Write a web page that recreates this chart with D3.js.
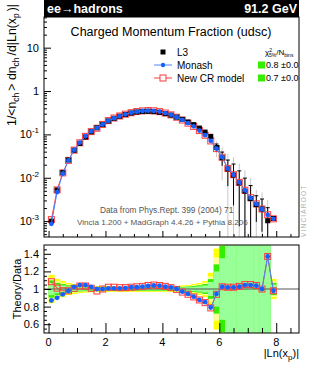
<!DOCTYPE html>
<html>
<head>
<meta charset="utf-8">
<script src="https://cdn.jsdelivr.net/npm/d3@7"></script>
<style>
body { margin: 0; background: #fff; }
text { font-family: "Liberation Sans", Arial, Helvetica, sans-serif; }
.axis path { display: none; }
.axis line { stroke: #000; }
</style>
</head>
<body>
<script>
// |ln(xp)| bin centres (bins are 0.2 wide)
const xCenters = [0.1, 0.3, 0.5, 0.7, 0.9, 1.1, 1.3, 1.5, 1.7, 1.9,
                  2.1, 2.3, 2.5, 2.7, 2.9, 3.1, 3.3, 3.5, 3.7, 3.9,
                  4.1, 4.3, 4.5, 4.7, 4.9, 5.1, 5.3, 5.5, 5.7, 5.9,
                  6.1, 6.3, 6.5, 6.7, 6.9, 7.1, 7.3, 7.5, 7.7, 7.9];
const binWidth = 0.2;

// L3 data, 1/<n_ch> dn_ch/d|ln(xp)|
const l3Values = [0.00100, 0.0052, 0.0132, 0.0257, 0.043, 0.062, 0.087, 0.115, 0.142, 0.170,
                  0.204, 0.234, 0.262, 0.288, 0.310, 0.328, 0.338, 0.340, 0.335, 0.322,
                  0.302, 0.278, 0.250, 0.222, 0.193, 0.168, 0.140, 0.113, 0.090, 0.050,
                  0.029, 0.0160, 0.0115, 0.0076, 0.0049, 0.0033, 0.0024, 0.0019, 0.00102, 0.00115];
// relative 1 sigma uncertainty of the data
const l3RelErr = [0.07, 0.05, 0.04, 0.03, 0.025, 0.02, 0.018, 0.016, 0.015, 0.015,
                  0.015, 0.015, 0.015, 0.015, 0.015, 0.015, 0.015, 0.015, 0.015, 0.015,
                  0.015, 0.015, 0.015, 0.018, 0.02, 0.025, 0.03, 0.04, 0.08, 0.2,
                  0.35, 0.6, 0.8, 0.9, 1.0, 1.0, 0.6, 0.7, 1.0, 0.05];

// Theory / Data
const monashRatio = [0.87, 0.90, 0.94, 0.98, 1.025, 1.045, 1.045, 1.025, 1.0, 1.0,
                     1.008, 1.008, 1.008, 1.01, 1.02, 1.02, 1.026, 1.034, 1.04, 1.038,
                     1.026, 1.019, 1.0, 0.97, 0.944, 0.913, 0.876, 0.85, 0.79, 0.944,
                     1.026, 1.019, 1.019, 1.026, 1.045, 1.045, 1.038, 1.0, 1.37, 0.98];
const newCRRatio = [1.083, 1.01, 0.98, 0.98, 1.008, 1.034, 1.034, 1.008, 0.977, 1.0,
                    1.02, 1.02, 1.015, 1.015, 1.02, 1.025, 1.03, 1.04, 1.045, 1.04,
                    1.03, 1.015, 0.995, 0.965, 0.94, 0.91, 0.875, 0.845, 0.785, 0.94,
                    1.025, 1.02, 1.02, 1.03, 1.05, 1.05, 1.04, 1.0, 1.37, 0.98];

const legendNames = ["L3", "Monash", "New CR model"];
const chi2Values = ["0.8 \u00b10.0", "0.7 \u00b10.0"];

const mainTicks = [0.001, 0.01, 0.1, 1, 10];
const mainTickExp = ["-3", "-2", "-1", "", ""];
const ratioTicks = [0.6, 0.8, 1, 1.2, 1.4];
const xTicks = [0, 2, 4, 6, 8];

function main() {
    var width = 315, height = 368;
    var left = 44, right = 299;
    var mainTop = 17, mainBottom = 237, ratTop = 245, ratBottom = 333;
    var blue = "#1560ff", red = "#ff3b3b";

    var svg = d3.select("body").append("svg")
                .attr("width", width)
                .attr("height", height);

    var x = d3.scaleLinear().domain([-0.16, 8.8]).range([left, right]);
    var y = d3.scaleLog().domain([4.3e-4, 51]).range([mainBottom, mainTop]);
    var yr = d3.scaleLinear().domain([0.5, 1.5]).range([ratBottom, ratTop]);

    var rows = xCenters.map(function(c, i) {
        return {x: c, v: l3Values[i], e: l3RelErr[i],
                rm: monashRatio[i], rn: newCRRatio[i],
                mon: l3Values[i] * monashRatio[i], ncr: l3Values[i] * newCRRatio[i]};
    });

    var defs = svg.append("defs");
    defs.append("clipPath").attr("id", "clipMain").append("rect")
        .attr("x", left).attr("y", mainTop).attr("width", right - left).attr("height", mainBottom - mainTop);
    defs.append("clipPath").attr("id", "clipRatio").append("rect")
        .attr("x", left).attr("y", ratTop).attr("width", right - left).attr("height", ratBottom - ratTop);

    // ---------- main panel ----------
    var gm = svg.append("g").attr("clip-path", "url(#clipMain)");

    function lo(v, k) { return v * (1 - k) > 0 ? y(v * (1 - k)) : mainBottom + 5; }

    // outer (grey) and inner (black) data error bars
    gm.selectAll(".ebg").data(rows).enter().append("line")
      .attr("x1", d => x(d.x)).attr("x2", d => x(d.x))
      .attr("y1", d => y(d.v * (1 + 2 * d.e))).attr("y2", d => lo(d.v, 2 * d.e))
      .attr("stroke", "#c8c8c8").attr("stroke-width", 1);
    gm.selectAll(".eb").data(rows).enter().append("line")
      .attr("x1", d => x(d.x)).attr("x2", d => x(d.x))
      .attr("y1", d => y(d.v * (1 + d.e))).attr("y2", d => lo(d.v, d.e))
      .attr("stroke", "#000").attr("stroke-width", 1);
    gm.selectAll(".cap").data(rows.filter(d => d.e > 0.1)).enter().append("line")
      .attr("x1", d => x(d.x) - 2).attr("x2", d => x(d.x) + 2)
      .attr("y1", d => y(d.v * (1 + d.e))).attr("y2", d => y(d.v * (1 + d.e)))
      .attr("stroke", "#000");

    var lineNcr = d3.line().x(d => x(d.x)).y(d => y(d.ncr));
    var lineMon = d3.line().x(d => x(d.x)).y(d => y(d.mon));

    gm.append("path").datum(rows).attr("d", lineNcr)
      .attr("fill", "none").attr("stroke", red).attr("stroke-width", 1);
    gm.selectAll(".sqn").data(rows).enter().append("rect")
      .attr("x", d => x(d.x) - 3).attr("y", d => y(d.ncr) - 3)
      .attr("width", 6).attr("height", 6)
      .attr("fill", "none").attr("stroke", red).attr("stroke-width", 1);

    gm.selectAll(".dat").data(rows).enter().append("rect")
      .attr("x", d => x(d.x) - 2.5).attr("y", d => y(d.v) - 2.5)
      .attr("width", 5).attr("height", 5).attr("fill", "#000");

    gm.append("path").datum(rows).attr("d", lineMon)
      .attr("fill", "none").attr("stroke", "#4a86ff").attr("stroke-width", 1);
    gm.selectAll(".dm").data(rows).enter().append("circle")
      .attr("cx", d => x(d.x)).attr("cy", d => y(d.mon)).attr("r", 2.4)
      .attr("fill", blue);

    // frame
    svg.append("rect").attr("x", left).attr("y", mainTop)
       .attr("width", right - left).attr("height", mainBottom - mainTop)
       .attr("fill", "none").attr("stroke", "#000");

    // log axis ticks (inside)
    var minor = [];
    for (var k = -4; k <= 1; k++) {
        for (var m = 2; m <= 9; m++) {
            var v = m * Math.pow(10, k);
            if (v > 4.3e-4 && v < 51) minor.push(v);
        }
    }
    svg.append("g").attr("class", "axis").attr("transform", "translate(" + left + ",0)")
       .call(d3.axisLeft(y).tickValues(minor).tickSize(-3).tickFormat(""));
    svg.append("g").attr("class", "axis").attr("transform", "translate(" + left + ",0)")
       .call(d3.axisLeft(y).tickValues(mainTicks).tickSize(-7).tickFormat(""));

    var xMinor = d3.range(0, 8.51, 0.5).filter(v => v % 2 !== 0);
    svg.append("g").attr("class", "axis").attr("transform", "translate(0," + mainBottom + ")")
       .call(d3.axisBottom(x).tickValues(xMinor).tickSize(-3).tickFormat(""));
    svg.append("g").attr("class", "axis").attr("transform", "translate(0," + mainBottom + ")")
       .call(d3.axisBottom(x).tickValues(xTicks).tickSize(-6).tickFormat(""));

    // tick labels with exponents
    mainTicks.forEach(function(t, i) {
        var txt = svg.append("text").attr("x", left - 5).attr("y", y(t) + 4)
                     .attr("text-anchor", "end").attr("font-size", 11);
        if (t === 1) { txt.text("1"); return; }
        if (mainTickExp[i] === "") {
            txt.text("10");
        } else {
            txt.append("tspan").text("10");
            txt.append("tspan").attr("dy", -5).attr("font-size", 8).text(mainTickExp[i]);
        }
    });

    // y title
    var yt = svg.append("text").attr("font-size", 12.3).attr("text-anchor", "end")
                .attr("transform", "translate(15.5,4) rotate(-90)");
    yt.append("tspan").text("1/<n");
    yt.append("tspan").attr("font-size", 8.5).attr("dy", 3).text("ch");
    yt.append("tspan").attr("dy", -3).attr("dx", 2).text("> dn");
    yt.append("tspan").attr("font-size", 8.5).attr("dy", 3).text("ch");
    yt.append("tspan").attr("dy", -3).attr("dx", 2).text("/d|Ln(x");
    yt.append("tspan").attr("font-size", 8.5).attr("dy", 3).text("p");
    yt.append("tspan").attr("dy", -3).attr("dx", 2).text(")|");

    // header bar
    svg.append("rect").attr("x", left).attr("y", 0).attr("width", right - left).attr("height", mainTop)
       .attr("fill", "#000");
    svg.append("text").attr("x", left + 3).attr("y", 13).attr("fill", "#fff")
       .attr("font-size", 12.5).attr("font-weight", "bold").text("ee\u2192hadrons");
    svg.append("text").attr("x", right - 2).attr("y", 13).attr("fill", "#fff")
       .attr("text-anchor", "end").attr("font-size", 12.5).attr("font-weight", "bold").text("91.2 GeV");

    svg.append("text").attr("x", 171).attr("y", 36).attr("text-anchor", "middle")
       .attr("font-size", 12.5).text("Charged Momentum Fraction (udsc)");

    // legend
    var lx = 163, ly = [52, 65, 78];
    svg.append("rect").attr("x", lx - 2.5).attr("y", ly[0] - 2.5).attr("width", 5).attr("height", 5).attr("fill", "#000");
    svg.append("line").attr("x1", lx - 9).attr("x2", lx + 9).attr("y1", ly[1]).attr("y2", ly[1]).attr("stroke", "#4a86ff");
    svg.append("circle").attr("cx", lx).attr("cy", ly[1]).attr("r", 2.2).attr("fill", blue);
    svg.append("line").attr("x1", lx - 9).attr("x2", lx + 9).attr("y1", ly[2]).attr("y2", ly[2]).attr("stroke", red);
    svg.append("rect").attr("x", lx - 3).attr("y", ly[2] - 3).attr("width", 6).attr("height", 6)
       .attr("fill", "#fff").attr("stroke", red);
    legendNames.forEach(function(n, i) {
        svg.append("text").attr("x", lx + 14).attr("y", ly[i] + 3.5).attr("font-size", 10).text(n);
    });

    var ch = svg.append("text").attr("x", 265).attr("y", 55).attr("font-size", 8);
    ch.append("tspan").text("\u03c7");
    ch.append("tspan").attr("font-size", 5).attr("dy", -3).text("2");
    ch.append("tspan").attr("font-size", 5).attr("dx", -3).attr("dy", 5).text("5%");
    ch.append("tspan").attr("dy", -2).text("/N");
    ch.append("tspan").attr("font-size", 5).attr("dy", 2).text("bins");
    chi2Values.forEach(function(c, i) {
        svg.append("rect").attr("x", 258).attr("y", ly[i + 1] - 3.5).attr("width", 7).attr("height", 7)
           .attr("fill", "#33ee00");
        svg.append("text").attr("x", 266).attr("y", ly[i + 1] + 3).attr("font-size", 9).text(c);
    });

    svg.append("text").attr("x", 100).attr("y", 213).attr("font-size", 8.3).attr("fill", "#555")
       .text("Data from Phys.Rept. 399 (2004) 71");
    svg.append("text").attr("x", 77).attr("y", 225).attr("font-size", 8.1).attr("fill", "#555")
       .text("Vincia 1.200 + MadGraph 4.4.26 + Pythia 8.206");

    svg.append("text").attr("transform", "translate(305.5,237) rotate(-90)")
       .attr("font-size", 6.5).attr("letter-spacing", 1.2).attr("fill", "#b0b0b0").text("VINCIAROOT");

    // ---------- ratio panel ----------
    var gr = svg.append("g").attr("clip-path", "url(#clipRatio)");
    var bands = [{k: 2.3, c: "#ffff00"}, {k: 1.8, c: "#ffff99"}, {k: 1.4, c: "#33ee00"}, {k: 1.0, c: "#99ff99"}];
    bands.forEach(function(b) {
        gr.selectAll(null).data(rows).enter().append("rect")
          .attr("x", d => x(d.x - binWidth / 2))
          .attr("width", d => x(d.x + binWidth / 2) - x(d.x - binWidth / 2) + 0.3)
          .attr("y", d => yr(1 + b.k * d.e))
          .attr("height", d => yr(1 - b.k * d.e) - yr(1 + b.k * d.e))
          .attr("fill", b.c);
    });
    gr.append("line").attr("x1", left).attr("x2", right).attr("y1", yr(1)).attr("y2", yr(1))
      .attr("stroke", "#555").attr("stroke-width", 1);

    gr.append("path").datum(rows).attr("d", d3.line().x(d => x(d.x)).y(d => yr(d.rn)))
      .attr("fill", "none").attr("stroke", red).attr("stroke-width", 1);
    gr.selectAll(".rsq").data(rows).enter().append("rect")
      .attr("x", d => x(d.x) - 3).attr("y", d => yr(d.rn) - 3).attr("width", 6).attr("height", 6)
      .attr("fill", "none").attr("stroke", red);
    gr.append("path").datum(rows).attr("d", d3.line().x(d => x(d.x)).y(d => yr(d.rm)))
      .attr("fill", "none").attr("stroke", "#4a86ff").attr("stroke-width", 1);
    gr.selectAll(".rdm").data(rows).enter().append("circle")
      .attr("cx", d => x(d.x)).attr("cy", d => yr(d.rm)).attr("r", 2.4).attr("fill", blue);

    svg.append("rect").attr("x", left).attr("y", ratTop)
       .attr("width", right - left).attr("height", ratBottom - ratTop)
       .attr("fill", "none").attr("stroke", "#000");

    var rMinor = d3.range(0.55, 1.5, 0.05).filter(v => Math.abs(v * 5 - Math.round(v * 5)) > 0.01);
    svg.append("g").attr("class", "axis").attr("transform", "translate(" + left + ",0)")
       .call(d3.axisLeft(yr).tickValues(rMinor).tickSize(-3).tickFormat(""));
    svg.append("g").attr("class", "axis").attr("transform", "translate(" + left + ",0)")
       .call(d3.axisLeft(yr).tickValues(ratioTicks).tickSize(-7).tickFormat(""));
    svg.append("g").attr("class", "axis").attr("transform", "translate(0," + ratBottom + ")")
       .call(d3.axisBottom(x).tickValues(xMinor).tickSize(-5).tickFormat(""));
    svg.append("g").attr("class", "axis").attr("transform", "translate(0," + ratBottom + ")")
       .call(d3.axisBottom(x).tickValues(xTicks).tickSize(-10).tickFormat(""));

    ratioTicks.forEach(function(t) {
        svg.append("text").attr("x", left - 5).attr("y", yr(t) + 4).attr("text-anchor", "end")
           .attr("font-size", 11).text(d3.format("~g")(t));
    });
    xTicks.forEach(function(t) {
        svg.append("text").attr("x", x(t)).attr("y", 346).attr("text-anchor", "middle")
           .attr("font-size", 11).text(t);
    });

    var xt = svg.append("text").attr("x", right).attr("y", 357).attr("text-anchor", "end").attr("font-size", 11);
    xt.append("tspan").text("|Ln(x");
    xt.append("tspan").attr("font-size", 8).attr("dy", 3).text("p");
    xt.append("tspan").attr("dy", -3).text(")|");

    svg.append("text").attr("transform", "translate(21," + yr(1) + ") rotate(-90)")
       .attr("text-anchor", "middle").attr("font-size", 11).text("Theory/Data");
}
main();
</script>
</body>
</html>
